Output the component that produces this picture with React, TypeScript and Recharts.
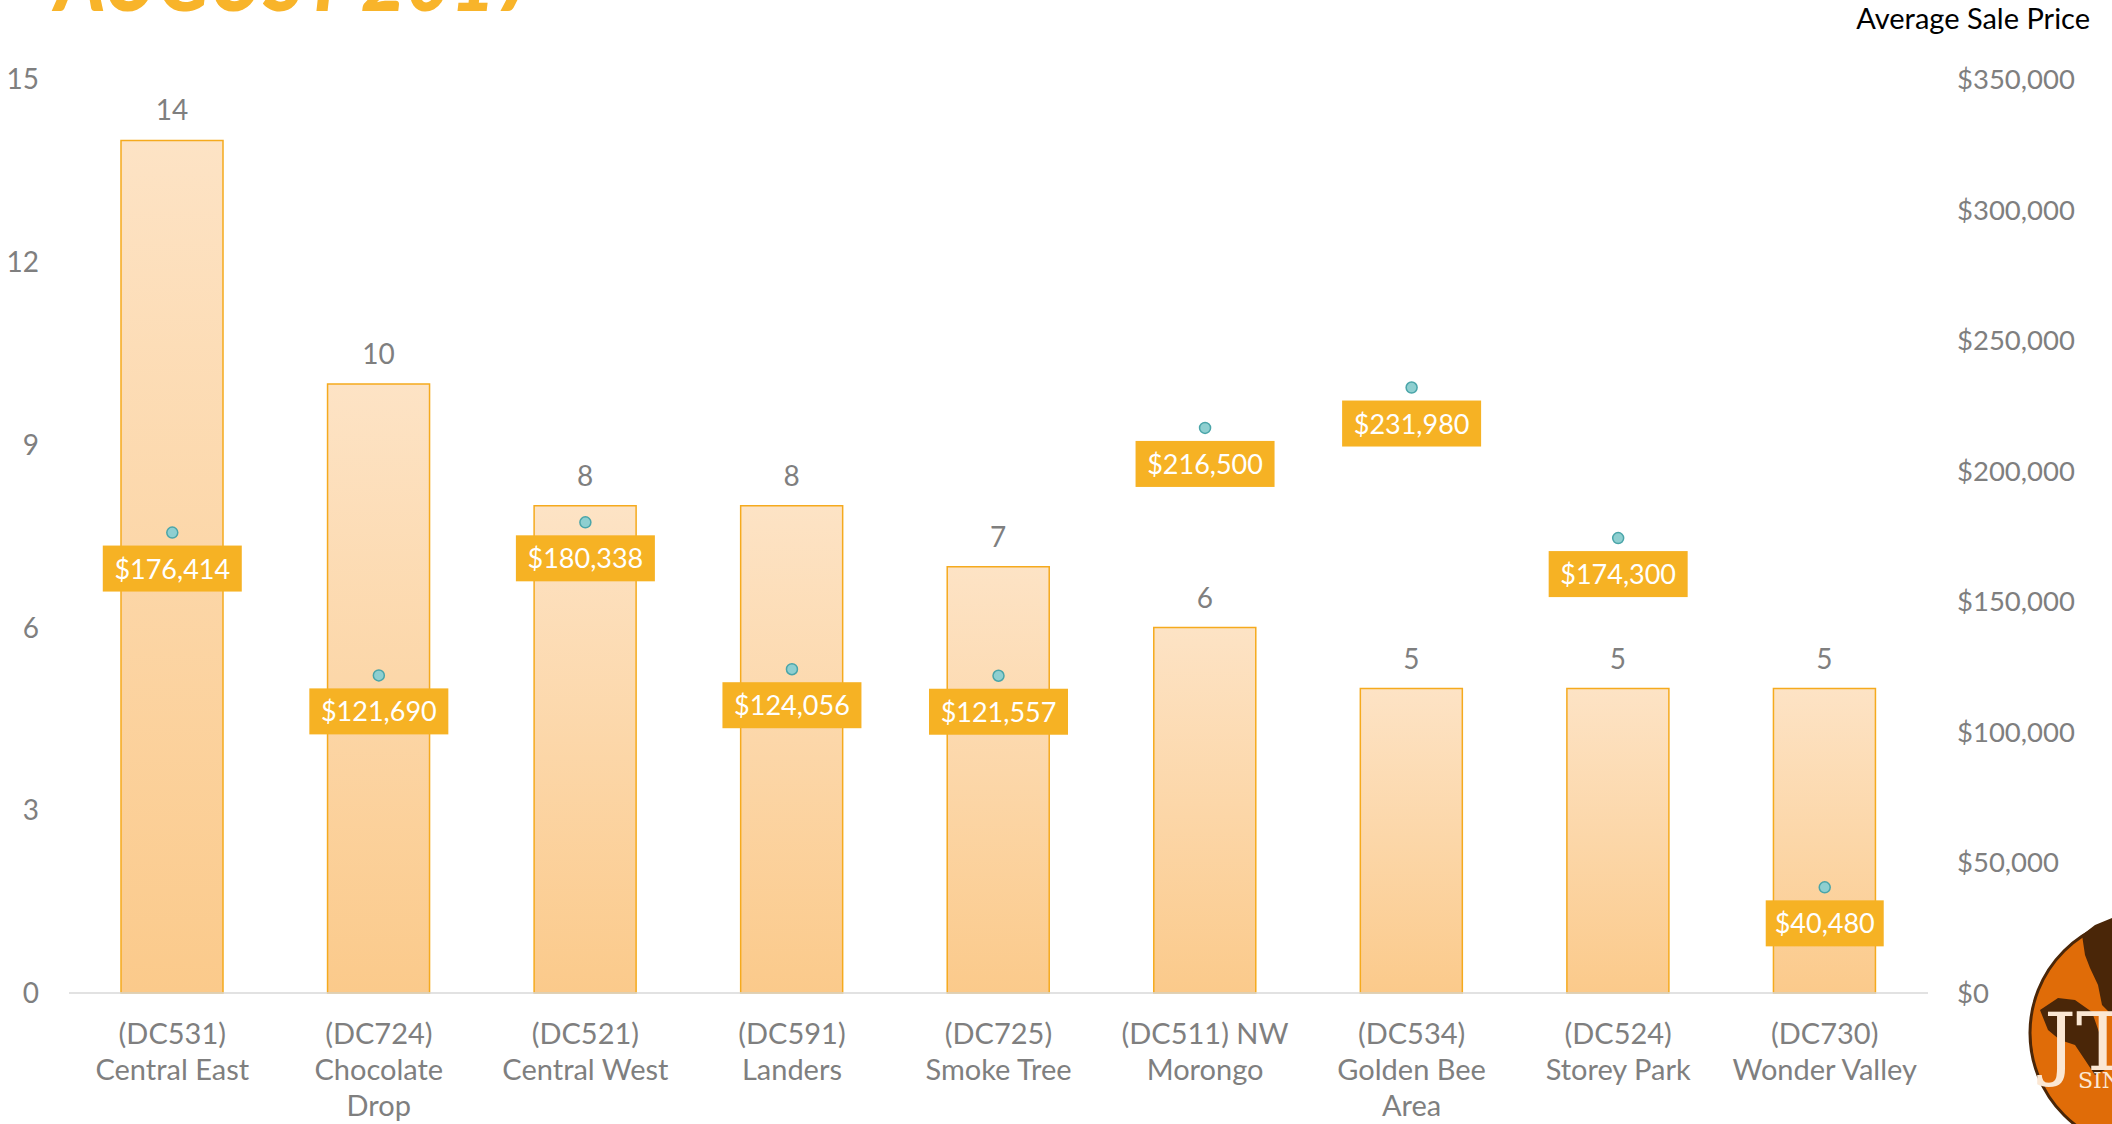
import React from "react";
import { ComposedChart, Bar, Line, XAxis, YAxis, LabelList } from "recharts";

const categories = [
  "(DC531) Central East",
  "(DC724) Chocolate Drop",
  "(DC521) Central West",
  "(DC591) Landers",
  "(DC725) Smoke Tree",
  "(DC511) NW Morongo",
  "(DC534) Golden Bee Area",
  "(DC524) Storey Park",
  "(DC730) Wonder Valley",
];
const salesCounts = [14, 10, 8, 8, 7, 6, 5, 5, 5];
const avgPrices = [176414, 121690, 180338, 124056, 121557, 216500, 231980, 174300, 40480];
const countTicks = [0, 3, 6, 9, 12, 15];
const priceTicks = [0, 50000, 100000, 150000, 200000, 250000, 300000, 350000];
const titleText = "AUGUST 2017";
const rightAxisTitle = "Average Sale Price";

const data = categories.map((name, i) => ({
  name,
  count: salesCounts[i],
  price: avgPrices[i],
}));

const FONT = "Lato, 'Open Sans', sans-serif";
const GRAY = "#7f7f7f";
const ORANGE = "#F6B224";

const fmtMoney = (v: number) => "$" + Number(v).toLocaleString("en-US");

function estWidth(s: string): number {
  let w = 0;
  for (const ch of s) {
    if (ch === " ") w += 0.25;
    else if (ch === "(" || ch === ")") w += 0.3;
    else if (/[0-9]/.test(ch)) w += 0.56;
    else if (/[A-Z]/.test(ch)) w += 0.7;
    else if (/[ijlrtf]/.test(ch)) w += 0.3;
    else if (ch === "m" || ch === "w") w += 0.8;
    else w += 0.5;
  }
  return w;
}

function wrap(text: string, maxEm = 6.4): string[] {
  const words = text.split(" ");
  const lines: string[] = [];
  let cur = "";
  for (const w of words) {
    const cand = cur ? cur + " " + w : w;
    if (estWidth(cand) > maxEm && cur) {
      lines.push(cur);
      cur = w;
    } else {
      cur = cand;
    }
  }
  if (cur) lines.push(cur);
  return lines;
}

const CategoryTick = (props: any) => {
  const { x, y, payload } = props;
  const lines = wrap(String(payload.value));
  return (
    <text x={x} y={y} textAnchor="middle" fill={GRAY} fontSize={29} fontFamily={FONT}>
      {lines.map((l, i) => (
        <tspan key={i} x={x} dy={i === 0 ? 51 : 36}>
          {l}
        </tspan>
      ))}
    </text>
  );
};

const CountLabel = (props: any) => {
  const { x, y, width, value } = props;
  return (
    <text
      x={Number(x) + Number(width) / 2}
      y={Number(y) - 20}
      textAnchor="middle"
      fill={GRAY}
      fontSize={28}
      fontFamily={FONT}
    >
      {value}
    </text>
  );
};

const PriceLabel = (props: any) => {
  const { x, y, value } = props;
  const txt = fmtMoney(value);
  const w = txt.length * 21 - 29;
  const top = Number(y) + 13;
  return (
    <g>
      <rect x={Number(x) - w / 2} y={top} width={w} height={46} fill={ORANGE} />
      <text
        x={x}
        y={top + 33}
        textAnchor="middle"
        fill="#ffffff"
        fontSize={27}
        fontFamily={FONT}
      >
        {txt}
      </text>
    </g>
  );
};

const PriceDot = (props: any) => {
  const { cx, cy, index } = props;
  return (
    <circle
      key={"d" + index}
      cx={cx}
      cy={cy}
      r={5.5}
      fill="#8ECFD0"
      stroke="#4AA5A9"
      strokeWidth={1.5}
    />
  );
};

export default function App() {
  return (
    <div
      style={{
        position: "absolute",
        left: 0,
        top: 0,
        width: 2112,
        height: 1124,
        overflow: "hidden",
        background: "#ffffff",
      }}
    >
      <ComposedChart
        width={2112}
        height={1124}
        data={data}
        margin={{ top: 79.5, right: 0, bottom: 0, left: 0 }}
        style={{ fontFamily: FONT }}
      >
        <defs>
          <linearGradient id="barGrad" x1="0" y1="0" x2="0" y2="1">
            <stop offset="0%" stopColor="#FDE3C5" />
            <stop offset="100%" stopColor="#FBCA8B" />
          </linearGradient>
        </defs>
        <XAxis
          dataKey="name"
          height={131}
          tick={<CategoryTick />}
          tickLine={false}
          tickSize={0}
          tickMargin={0}
          axisLine={{ stroke: "#D9D9D9", strokeWidth: 1.5 }}
          interval={0}
        />
        <YAxis
          yAxisId="left"
          width={69}
          domain={[0, 15]}
          ticks={countTicks}
          axisLine={false}
          tickLine={false}
          tickSize={0}
          tickMargin={30}
          tick={{ fill: GRAY, fontSize: 28, fontFamily: FONT }}
        />
        <YAxis
          yAxisId="right"
          orientation="right"
          width={184}
          domain={[0, 350000]}
          ticks={priceTicks}
          axisLine={false}
          tickLine={false}
          tickSize={0}
          tickMargin={29}
          tickFormatter={fmtMoney}
          tick={{ fill: GRAY, fontSize: 27.5, fontFamily: FONT, textAnchor: "start" }}
        />
        <Bar
          yAxisId="left"
          dataKey="count"
          barSize={102}
          fill="url(#barGrad)"
          stroke="#F5AA1E"
          strokeWidth={1.5}
          isAnimationActive={false}
        >
          <LabelList dataKey="count" content={<CountLabel />} />
        </Bar>
        <Line
          yAxisId="right"
          dataKey="price"
          stroke="none"
          dot={<PriceDot />}
          activeDot={false}
          isAnimationActive={false}
        >
          <LabelList dataKey="price" content={<PriceLabel />} />
        </Line>
      </ComposedChart>

      <svg
        width={2112}
        height={1124}
        style={{ position: "absolute", left: 0, top: 0, pointerEvents: "none" }}
      >
        <text
          x={55}
          y={11}
          textLength={485}
          lengthAdjust="spacingAndGlyphs"
          fill="#F8B42A"
          fontSize={84}
          fontWeight={900}
          fontStyle="italic"
          fontFamily={FONT}
        >
          {titleText}
        </text>
        <text x={2090} y={29} textAnchor="end" fill="#000000" fontSize={29} fontFamily={FONT}>
          {rightAxisTitle}
        </text>
        <g>
          <circle cx={2146} cy={1033} r={116} fill="#E06C08" stroke="#4A2608" strokeWidth={3} />
          <path
            d="M2082,935 L2095,925 L2112,918 L2112,1015 L2102,1005 L2098,985 L2090,968 L2085,955 Z"
            fill="#4A2608"
          />
          <path
            d="M2040,1010 L2058,998 L2075,1000 L2092,1012 L2100,1035 L2105,1070 L2095,1075 L2085,1060 L2075,1045 L2060,1040 L2048,1030 Z"
            fill="#4A2608"
          />
          <text x={2044} y={1070} fill="#FBE7D3" fontSize={80} fontFamily="'DejaVu Serif', 'Liberation Serif', serif">
            JTW
          </text>
          <text x={2078} y={1088} fill="#FBE7D3" fontSize={22} fontFamily="'DejaVu Serif', 'Liberation Serif', serif">
            SINCE
          </text>
        </g>
      </svg>
    </div>
  );
}
